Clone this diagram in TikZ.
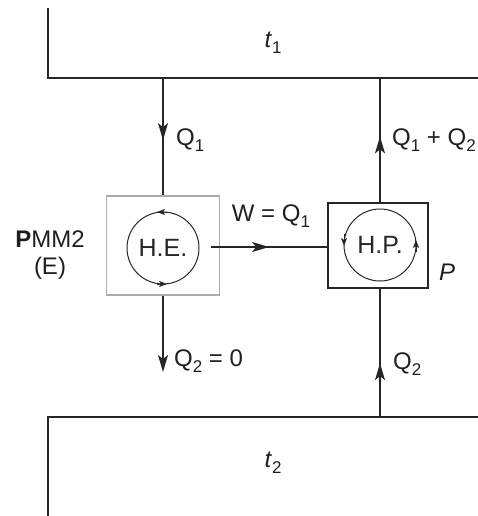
\documentclass[tikz,border=0pt]{standalone}
\usepackage{fontspec}
\setmainfont{Liberation Sans}
\usetikzlibrary{arrows.meta,decorations.markings}
\newcommand\sbs[1]{\raisebox{-0.45ex}{\fontsize{17}{17}\selectfont #1}}
\begin{document}
\begin{tikzpicture}[x=1pt,y=-1pt,
  wire/.style={line width=1.6pt, black!85},
  endtip/.style={-{Stealth[length=17pt,width=10pt,inset=4pt]}},
  midarrow/.style={postaction={decorate}, decoration={markings, mark=at position #1 with {\arrow{Stealth[length=17pt,width=10pt,inset=4pt]}}}},
  lbl/.style={font=\fontsize{24}{26}\selectfont, inner sep=0pt, text=black!88},
  cyc/.style={circle, draw=black!85, line width=1pt, minimum size=72pt, inner sep=0pt, font=\fontsize{25}{26}\selectfont, text=black!85},
  tinytip/.style={-{Stealth[length=8pt,width=6pt,inset=2pt]}, line width=0.6pt, black!85}
]
\useasboundingbox (0,0) rectangle (477,516);
% reservoirs
\draw[wire] (48,8) -- (48,78) -- (480,78);
\draw[wire] (48,520) -- (48,417) -- (480,417);
\coordinate (hotL) at (163,78);
\coordinate (hotR) at (380,78);
\coordinate (coldR) at (380,417);
\coordinate (rejE) at (163,372);
\coordinate (wStart) at (211,247);
% boxes
\node[draw=gray!65, line width=1.5pt, minimum width=113pt, minimum height=99pt, inner sep=0pt] (he) at (163,245.5) {};
\node[draw=black!85, line width=1.5pt, minimum width=100pt, minimum height=85pt, inner sep=0pt] (hp) at (378,245.5) {};
\node[cyc] (hec) at (163,248) {H.E.};
\node[cyc] (hpc) at (380,245) {H.P.};
% cycle arrows
\draw[tinytip] (167,212) -- (157,212);
\draw[tinytip] (157,284) -- (167,284);
\draw[tinytip] (344,234) -- (344,246);
\draw[tinytip] (416,252) -- (416,240);
% connectors
\draw[wire, midarrow=0.53] (hotL) -- (he.north);
\draw[wire, midarrow=0.53] (hp.north -| hotR) -- (hotR);
\draw[wire, midarrow=0.5] (wStart) -- (wStart -| hp.west);
\draw[wire, midarrow=0.42] (coldR) -- (hp.south -| coldR);
\draw[wire, endtip] (he.south) -- (rejE);
% labels
\node[lbl] (t1) at (273,43) {\textit{t}\sbs{1}};
\node[lbl] (t2) at (273,463) {\textit{t}\sbs{2}};
\node[lbl, anchor=west] (q1) at (176,140) {Q\sbs{1}};
\node[lbl, anchor=west] (q12) at (392,140) {Q\sbs{1} + Q\sbs{2}};
\node[lbl] (w) at (271,216) {W = Q\sbs{1}};
\node[lbl, anchor=west] (q20) at (174,361) {Q\sbs{2} = 0};
\node[lbl, anchor=west] (q2) at (393,364) {Q\sbs{2}};
\node[lbl] (pmm) at (50,239) {\textbf{P}MM2};
\node[lbl] (e) at (50,268) {(E)};
\node[lbl] (p) at (447,272) {\textit{P}};
\end{tikzpicture}
\end{document}
